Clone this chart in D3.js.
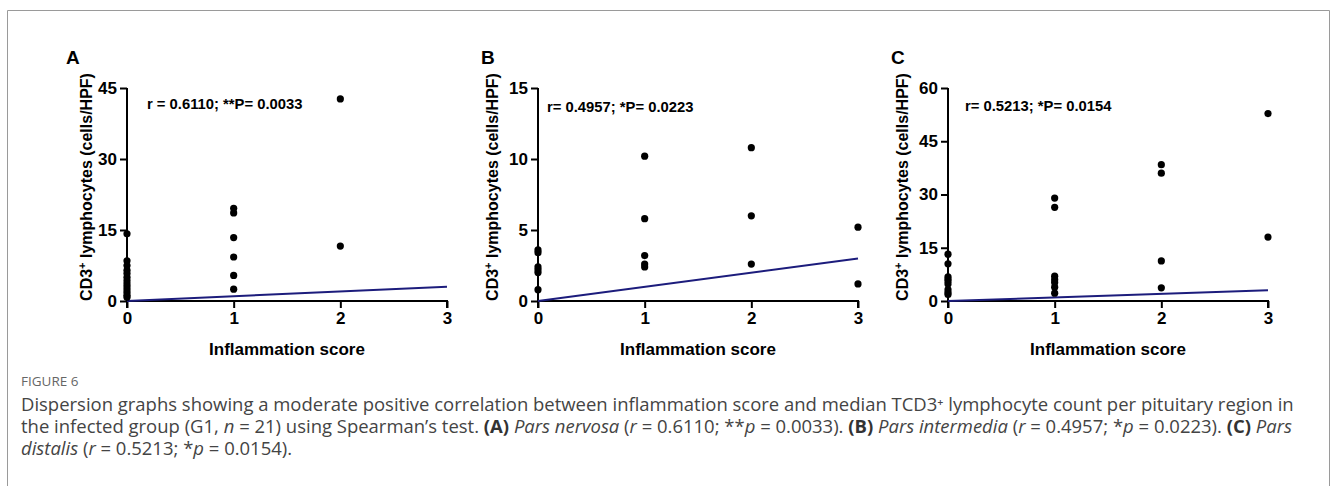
<!DOCTYPE html>
<html><head><meta charset="utf-8">
<script src="https://cdn.jsdelivr.net/npm/d3@7"></script>
<style>
html,body{margin:0;padding:0;background:#fff;}
svg{display:block;}
</style></head>
<body>
<svg id="chart" width="1331" height="486"></svg>
<script>
// ---- data ----
const scoreTicks = [0, 1, 2, 3];
const panelLetters = ["A", "B", "C"];
const statTexts = ["r = 0.6110; **P= 0.0033", "r= 0.4957; *P= 0.0223", "r= 0.5213; *P= 0.0154"];
const yTicksA = [0, 15, 30, 45];
const yTicksB = [0, 5, 10, 15];
const yTicksC = [0, 15, 30, 45, 60];
const yMax = [45, 15, 60];

// Pars nervosa
const scoreA = [0,0,0,0,0,0,0,0,0,0,0,0,0, 1,1,1,1,1,1, 2,2];
const countA = [14.2,8.5,7.5,6.5,5.8,5.0,4.3,3.6,3.0,2.4,1.8,1.2,0.8, 19.6,18.6,13.4,9.3,5.4,2.5, 42.7,11.6];
// Pars intermedia
const scoreB = [0,0,0,0,0,0, 1,1,1,1,1, 2,2,2, 3,3];
const countB = [3.6,3.4,2.4,2.2,2.0,0.8, 10.2,5.8,3.2,2.6,2.4, 10.8,6.0,2.6, 5.2,1.2];
// Pars distalis
const scoreC = [0,0,0,0,0,0,0,0,0, 1,1,1,1,1,1,1, 2,2,2,2, 3,3];
const countC = [13.2,10.5,6.8,6.2,5.6,4.8,3.2,2.4,1.8, 29.0,26.4,7.0,6.0,5.2,3.9,2.2, 38.4,36.0,11.3,3.7, 52.8,18.0];

// fitted line endpoints (score, count)
const lineA = [[0,0],[3,3]];
const lineB = [[0,0],[3,3]];
const lineC = [[0,0],[3,3]];

const captionTitle = "FIGURE 6";

// ---- drawing ----
const svg = d3.select("#chart");
const FONT = "'Liberation Sans', Arial, sans-serif";

svg.append("path")
  .attr("d", "M7.5,486 V10.5 H1329.5 V486")
  .attr("fill", "none").attr("stroke", "#9a9a9a").attr("stroke-width", 1);

const panels = [
  {left:127, xs:scoreA, ys:countA, ticks:yTicksA, line:lineA, ylab:92, letterX:66, statX:147, statY:109, xt:287},
  {left:538, xs:scoreB, ys:countB, ticks:yTicksB, line:lineB, ylab:498, letterX:481, statX:547, statY:112, xt:698},
  {left:948, xs:scoreC, ys:countC, ticks:yTicksC, line:lineC, ylab:908, letterX:891, statX:965, statY:111, xt:1108}
];

const W = 320, TOP = 88, BOT = 301;

panels.forEach((p, i) => {
  const g = svg.append("g");
  const x = d3.scaleLinear().domain([0, 3]).range([p.left, p.left + W]);
  const y = d3.scaleLinear().domain([0, yMax[i]]).range([BOT, TOP]);

  const ya = g.append("g").attr("transform", `translate(${p.left},0)`)
    .call(d3.axisLeft(y).tickValues(p.ticks).tickSize(7).tickPadding(3).tickFormat(d3.format("d")));
  const xa = g.append("g").attr("transform", `translate(0,${BOT})`)
    .call(d3.axisBottom(x).tickValues(scoreTicks).tickSize(7).tickPadding(4).tickFormat(d3.format("d")));
  [ya, xa].forEach(a => {
    a.select(".domain").attr("stroke", "#000").attr("stroke-width", 2)
      .attr("d", a === ya ? `M0,${y(yMax[i])}V${BOT+7}` : `M${p.left-1},0H${p.left+W}V7`);
    a.selectAll(".tick line").attr("stroke", "#000").attr("stroke-width", 2);
    a.selectAll(".tick text").attr("fill", "#000").attr("font-family", FONT)
      .attr("font-weight", "bold").attr("font-size", 17);
  });

  g.append("path")
    .datum(p.line)
    .attr("d", d3.line().x(d => x(d[0])).y(d => y(d[1])))
    .attr("stroke", "#1c1c7c").attr("stroke-width", 2).attr("fill", "none");

  g.selectAll("circle").data(p.xs.map((s, k) => [s, p.ys[k]]))
    .join("circle")
    .attr("cx", d => x(d[0])).attr("cy", d => y(d[1]))
    .attr("r", 3.6).attr("fill", "#000");

  g.append("text").attr("x", p.statX).attr("y", p.statY)
    .attr("font-family", FONT).attr("font-weight", "bold").attr("font-size", 14.8)
    .text(statTexts[i]);

  g.append("text").attr("x", p.letterX).attr("y", 64)
    .attr("font-family", FONT).attr("font-weight", "bold").attr("font-size", 19)
    .text(panelLetters[i]);

  g.append("text").attr("x", p.xt).attr("y", 355).attr("text-anchor", "middle")
    .attr("font-family", FONT).attr("font-weight", "bold").attr("font-size", 17)
    .text("Inflammation score");

  const yt = g.append("text")
    .attr("transform", `translate(${p.ylab},187) rotate(-90)`)
    .attr("text-anchor", "middle")
    .attr("font-family", FONT).attr("font-weight", "bold").attr("font-size", 16);
  yt.append("tspan").text("CD3");
  yt.append("tspan").attr("dy", -6).attr("font-size", 11).text("+");
  yt.append("tspan").attr("dy", 6).text(" lymphocytes (cells/HPF)");
});

// caption
const CAP = "'Open Sans', 'Noto Sans', sans-serif";
svg.append("text").attr("x", 21).attr("y", 386)
  .attr("font-family", CAP).attr("font-size", 13.5).attr("fill", "#666")
  .text(captionTitle);

const lines = [
  [["Dispersion graphs showing a moderate positive correlation between inflammation score and median TCD3", ""], ["⁺", "sup"], [" lymphocyte count per pituitary region in", ""]],
  [["the infected group (G1, ", ""], ["n", "i"], [" = 21) using Spearman’s test. ", ""], ["(A)", "b"], [" ", ""], ["Pars nervosa", "i"], [" (", ""], ["r", "i"], [" = 0.6110; **", ""], ["p", "i"], [" = 0.0033). ", ""], ["(B)", "b"], [" ", ""], ["Pars intermedia", "i"], [" (", ""], ["r", "i"], [" = 0.4957; *", ""], ["p", "i"], [" = 0.0223). ", ""], ["(C)", "b"], [" ", ""], ["Pars", "i"]],
  [["distalis", "i"], [" (", ""], ["r", "i"], [" = 0.5213; *", ""], ["p", "i"], [" = 0.0154).", ""]]
];
const lineY = [411, 433, 455];
const texts = lines.map((segs, li) => {
  const t = svg.append("text").attr("x", 21).attr("y", lineY[li])
    .attr("font-family", CAP).attr("font-size", 16).attr("fill", "#444");
  segs.forEach(([s, st]) => {
    const ts = t.append("tspan").text(s);
    if (st === "i") ts.attr("font-style", "italic");
    if (st === "b") ts.attr("font-weight", "bold").attr("fill", "#333");
  });
  return t;
});
const fs = 16 * 1274 / texts[0].node().getComputedTextLength();
texts.forEach(t => t.attr("font-size", fs));
</script>
</body></html>
